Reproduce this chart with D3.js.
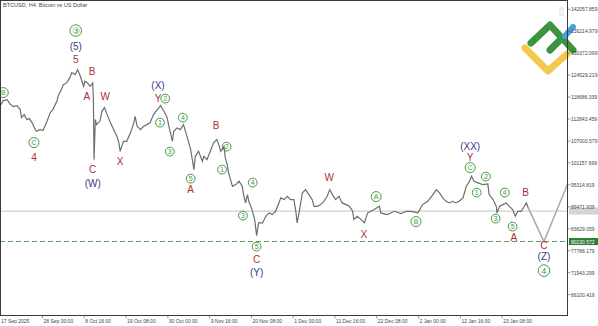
<!DOCTYPE html>
<html>
<head>
<meta charset="utf-8">
<script src="https://cdn.jsdelivr.net/npm/d3@7"></script>
<style>
body { margin: 0; background: #fff; }
text { font-family: "Liberation Sans", Arial, sans-serif; }
</style>
</head>
<body>
<svg id="chart" width="598" height="326"></svg>
<script>
// H4 bar number (from 17 Sep 2025 04:00) and close price
const barNo = [0,5,11,15,20,26,31,33,37,41,45,49,54,56,61,66,72,77,81,87,89,95,97,102,107,110,115,119,123,128,
  130,134,138,142,143,144,146,148,153,156,160,164,166,169,174,179,182,184,189,194,200,205,207,210,215,220,225,230,235,241,
  246,251,256,258,264,266,271,276,281,287,292,294,297,299,304,310,312,317,322,327,332,335,338,343,345,348,350,353,356,361,
  366,371,373,376,379,381,384,386,390,393,396,402,407,412,417,422,427,430,435,440,445,450,453,455,458,463,468,473,478,481,
  486,491,496,501,505,509,514,519,524,530,535,540,542,547,553,558,563,568,573,581,583,593,604,614,622,629,640,647,655,663,
  668,673,678,683,688,693,698,703,709,714,719,722,726,732,739,747,749,755,760,761,765,770,775,780,785,789,793,798,803,806,809];
const close = [116230,117750,118020,116950,116150,116420,115350,113220,114020,112690,112960,111890,110030,109580,110030,109840,112240,114560,115350,117560,
  118900,121130,122010,122460,123870,125210,124670,126000,124220,121560,122890,122460,121560,122460,118020,102040,112690,111360,112240,114900,
  115890,114020,113220,111890,110030,108250,106570,104250,106920,106920,109230,111890,113570,110910,110030,110910,111360,111890,114020,115350,
  116420,114900,113220,111360,106920,109580,110480,110030,111360,107820,104710,102500,99380,102920,104250,101590,102920,102040,104250,106490,
  107370,106040,104250,105580,102500,100710,98500,96720,94930,95390,96270,94930,92720,90510,92720,90940,89610,88730,86070,81810,
  85190,85190,86950,87850,87400,88280,90510,91850,91390,92270,91390,91390,88280,85190,87850,93180,94060,92720,91390,89610,
  89610,90060,90940,92270,94060,92720,91390,92270,90510,90060,89610,88280,86070,86950,86070,85190,87850,88280,88730,89610,
  87850,87400,88280,87670,88280,88280,87850,90060,90940,92720,94060,93180,91850,90940,90510,90940,90510,90940,91850,94930,
  96270,97600,96270,95840,95390,95570,92720,91390,89610,87850,89610,90060,90510,89610,88730,86950,88280,88280,89610,90510,89180];

// projected path (B -> C -> up)
const projBar = [809, 833, 870];
const projPrice = [89180, 80230.572, 95920];

const currentPrice = 88330;
const targetPrice = 80230.572;

// price axis ticks
const yTicks = [142057.859,136214.979,130372.099,124529.219,118686.339,112843.459,107000.579,
  101157.699,95314.819,89471.939,83629.059,77786.179,71943.299,66100.419];

// time axis labels
const xTickDates = ['2025-09-17T04:00Z','2025-09-28T00:00Z','2025-10-08T16:00Z','2025-10-19T08:00Z','2025-10-30T00:00Z',
  '2025-11-09T16:00Z','2025-11-20T08:00Z','2025-12-01T00:00Z','2025-12-11T16:00Z','2025-12-22T08:00Z',
  '2026-01-02T00:00Z','2026-01-12T16:00Z','2026-01-23T08:00Z'];
const xTickText = ['17 Sep 2025','28 Sep 00:00','8 Oct 16:00','19 Oct 08:00','30 Oct 00:00','9 Nov 16:00',
  '20 Nov 08:00','1 Dec 00:00','11 Dec 16:00','22 Dec 08:00','2 Jan 00:00','12 Jan 16:00','23 Jan 08:00'];

// wave labels: text, bar, price, kind
const waveText  = ['B','③','(5)','5','B','A','W','C','4','C','(W)','X','(X)','Y','2','1','4','3','5','A',
  'B','2','1','4','3','5','C','(Y)','W','X','A','B','(XX)','Y','C','2','1','4','3','5','A','B','C','(Z)','4'];
const waveBar   = [5,116,116,116,141,133,161,52,52,142,142,184,242,242,253,245,280,260,292,292,
  331,347,340,387,372,393,393,393,504,557,576,637,720,720,720,744,730,773,759,785,787,805,833,833,833];
const wavePrice = [119880,136390,132130,128670,125470,118820,118820,106570,102580,99380,95650,101510,121740,118280,118280,111890,113220,104170,96980,94060,
  111100,105500,99380,95920,87130,78880,75420,71960,97250,82070,92190,85540,105500,102580,99910,97520,93260,93260,86330,84200,81280,93260,79150,76220,72490];
const waveKind  = ['cmid','cbig','navy','red','red','red','red','cmid','red','red','navy','red','navy','red','csmall','csmall','csmall','csmall','csmall','red',
  'red','csmall','csmall','csmall','csmall','csmall','red','navy','red','red','cmid','cmid','navy','red','cmid','csmall','csmall','csmall','csmall','csmall','red','red','red','navy','cbig'];

const svg = d3.select('#chart');
const plotW = 567, plotH = 315;
const t0 = new Date(Date.UTC(2025, 8, 17, 4));
const barDate = b => new Date(t0.getTime() + b * 4 * 3600 * 1000);

let xScale = d3.scaleUtc()
    .domain([t0, new Date(Date.UTC(2026, 1, 8, 21))])
    .range([0, plotW]);
let yScale = d3.scaleLinear()
    .domain([66100.419, 142057.859])
    .range([294.6, 9.3]);

const red = '#a83232', navy = '#3a3a8c', green = '#3f9b3f';

svg.append('clipPath').attr('id', 'plotClip')
  .append('rect').attr('x', 0).attr('y', 0).attr('width', plotW).attr('height', plotH);

let plot = svg.append('g').attr('clip-path', 'url(#plotClip)');

// current price line
plot.append('line')
    .attr('x1', 0).attr('x2', plotW)
    .attr('y1', yScale(currentPrice)).attr('y2', yScale(currentPrice))
    .attr('stroke', '#cfcfcf').attr('stroke-width', 1.2);

// target dashed line
plot.append('line')
    .attr('x1', 0).attr('x2', plotW)
    .attr('y1', yScale(targetPrice)).attr('y2', yScale(targetPrice))
    .attr('stroke', '#5f9f5f').attr('stroke-width', 1).attr('stroke-dasharray', '5,3');

// price line
let line = d3.line()
    .x((d, i) => xScale(barDate(barNo[i])))
    .y((d, i) => yScale(close[i]));
plot.append('path')
    .datum(close)
    .attr('d', line)
    .attr('fill', 'none')
    .attr('stroke', '#6e6e6e')
    .attr('stroke-width', 1.2);

// projection
let projLine = d3.line()
    .x((d, i) => xScale(barDate(projBar[i])))
    .y((d, i) => yScale(projPrice[i]));
plot.append('path')
    .datum(projPrice)
    .attr('d', projLine)
    .attr('fill', 'none')
    .attr('stroke', '#a8a8a8')
    .attr('stroke-width', 1.5);

// wave labels
for (let i = 0; i < waveText.length; i++) {
    let x = xScale(barDate(waveBar[i]));
    let y = yScale(wavePrice[i]);
    let kind = waveKind[i];
    if (kind === 'red' || kind === 'navy') {
        plot.append('text')
            .attr('x', x).attr('y', y)
            .attr('text-anchor', 'middle')
            .attr('dominant-baseline', 'central')
            .attr('font-size', '10px')
            .attr('fill', kind === 'red' ? red : navy)
            .text(waveText[i]);
    } else {
        let r = kind === 'cbig' ? 5.8 : (kind === 'cmid' ? 5 : 4.4);
        plot.append('circle')
            .attr('cx', x).attr('cy', y).attr('r', r)
            .attr('fill', 'none')
            .attr('stroke', green).attr('stroke-width', 1);
        plot.append('text')
            .attr('x', x).attr('y', y + 0.3)
            .attr('text-anchor', 'middle')
            .attr('dominant-baseline', 'central')
            .attr('font-size', kind === 'cbig' ? '8.5px' : '7px')
            .attr('fill', green)
            .text(waveText[i]);
    }
}

// logo
let logo = svg.append('g').attr('stroke-linecap', 'round').attr('stroke-linejoin', 'round').attr('fill', 'none');
logo.append('path').attr('d', 'M525,48 L548,71 L567,54').attr('stroke', '#f2c94c').attr('stroke-width', 7);
logo.append('path').attr('d', 'M531,43 L550,25 L573,50').attr('stroke', '#3b9440').attr('stroke-width', 7);
logo.append('path').attr('d', 'M550,50 L561,39').attr('stroke', '#3b9440').attr('stroke-width', 7);
logo.append('path').attr('d', 'M565,36 L573,27').attr('stroke', '#4a9fe0').attr('stroke-width', 6);

// small icon
svg.append('rect').attr('x', 560).attr('y', 8).attr('width', 3).attr('height', 7)
    .attr('fill', 'none').attr('stroke', '#cfcfcf').attr('stroke-width', 0.8);

// frame
svg.append('rect')
    .attr('x', 0.5).attr('y', 0.5).attr('width', plotW).attr('height', plotH)
    .attr('fill', 'none').attr('stroke', '#3a3a3a').attr('stroke-width', 1);

// title
svg.append('text').attr('x', 3).attr('y', 7).attr('font-size', '5.5px').attr('fill', '#444')
    .text('BTCUSD, H4: Bitcoin vs US Dollar');

// price axis
let yAxis = svg.append('g');
yAxis.append('rect')
    .attr('x', 569).attr('y', yScale(currentPrice) - 3.5).attr('width', 29).attr('height', 7)
    .attr('fill', '#d4d4d4');
yTicks.forEach(v => {
    yAxis.append('line')
        .attr('x1', plotW + 0.5).attr('x2', plotW + 3.5)
        .attr('y1', yScale(v)).attr('y2', yScale(v))
        .attr('stroke', '#555').attr('stroke-width', 0.6);
    yAxis.append('text')
        .attr('x', 571).attr('y', yScale(v))
        .attr('dominant-baseline', 'central')
        .attr('font-size', '5px').attr('fill', '#444')
        .text(d3.format('.3f')(v));
});
yAxis.append('rect')
    .attr('x', 569).attr('y', yScale(targetPrice) - 3.5).attr('width', 29).attr('height', 7)
    .attr('fill', '#2e7d32');
yAxis.append('text')
    .attr('x', 571).attr('y', yScale(targetPrice))
    .attr('dominant-baseline', 'central')
    .attr('font-size', '5px').attr('fill', '#fff')
    .text(d3.format('.3f')(targetPrice));

// time axis
let xAxis = svg.append('g');
xTickDates.forEach((d, i) => {
    let x = xScale(new Date(d));
    if (i > 0) {
        xAxis.append('line')
            .attr('x1', x).attr('x2', x).attr('y1', plotH + 0.5).attr('y2', plotH + 3.5)
            .attr('stroke', '#555').attr('stroke-width', 0.6);
    }
    xAxis.append('text')
        .attr('x', i === 0 ? 1 : x + 1).attr('y', 321)
        .attr('dominant-baseline', 'central')
        .attr('font-size', '5px').attr('fill', '#444')
        .text(xTickText[i]);
});
</script>
</body>
</html>
